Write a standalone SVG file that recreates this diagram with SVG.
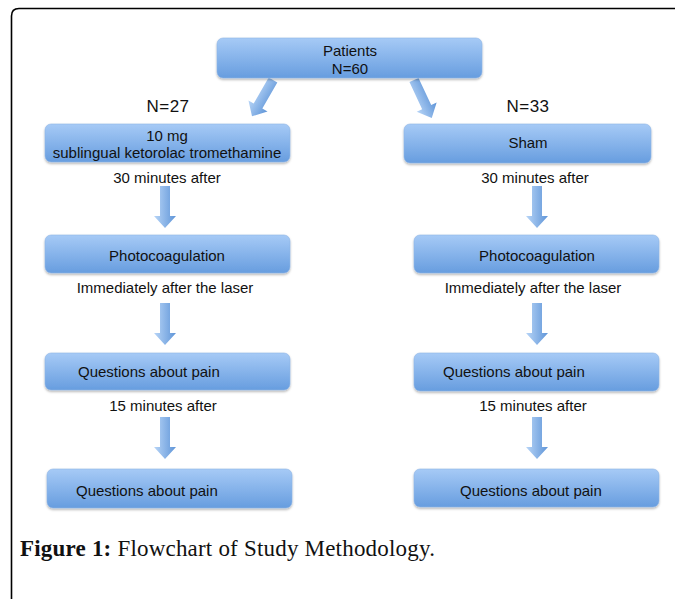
<svg xmlns="http://www.w3.org/2000/svg" xmlns:xlink="http://www.w3.org/1999/xlink" width="675" height="599" viewBox="0 0 675 599">
<defs>
<linearGradient id="boxg" x1="0" y1="0" x2="0" y2="1">
<stop offset="0" stop-color="#a6caf6"/>
<stop offset="1" stop-color="#679ddf"/>
</linearGradient>
<linearGradient id="arrg" x1="0" y1="0" x2="1" y2="0">
<stop offset="0" stop-color="#b8d5f7"/>
<stop offset="1" stop-color="#5f95d8"/>
</linearGradient>
<filter id="sh" x="-5%" y="-10%" width="110%" height="130%">
<feDropShadow dx="0" dy="1.5" stdDeviation="1.2" flood-color="#000" flood-opacity="0.3"/>
</filter>
<path id="arr" d="M-5,0 H5 V30 H11 L0,42 L-11,30 H-5 Z"/>
<style>
.box{fill:url(#boxg);stroke:#8fb5e6;stroke-width:0.6;filter:url(#sh)}
.t{font-family:"Liberation Sans","Open Sans",sans-serif;font-size:15px;fill:#111}
.c{text-anchor:middle}
.n{font-family:"Liberation Sans","Open Sans",sans-serif;font-size:17px;fill:#111;text-anchor:middle}
.a{fill:url(#arrg)}
</style>
</defs>
<rect width="675" height="599" fill="#fff"/>
<path d="M11.5,599 V16 Q11.5,8.5 19,8.5 H675" fill="none" stroke="#000" stroke-width="1.6"/>

<g id="connectors">
<use href="#arr" class="a" transform="translate(273,80) rotate(30)"/>
<use href="#arr" class="a" transform="translate(414,80) rotate(-25)"/>
<use href="#arr" class="a" transform="translate(165,186)"/>
<use href="#arr" class="a" transform="translate(537,186)"/>
<use href="#arr" class="a" transform="translate(165,303)"/>
<use href="#arr" class="a" transform="translate(537,303)"/>
<use href="#arr" class="a" transform="translate(165,417)"/>
<use href="#arr" class="a" transform="translate(537,417)"/>
</g>

<g id="patients">
<rect class="box" x="217" y="38" width="265" height="40" rx="6"/>
<text class="t c" x="350" y="56" font-size="16">Patients</text>
<text class="t c" x="350" y="74" font-size="16">N=60</text>
</g>

<text class="n" x="168" y="112" letter-spacing="0.5">N=27</text>
<text class="n" x="528" y="112" letter-spacing="0.5">N=33</text>

<g id="ketorolac">
<rect class="box" x="45" y="124" width="245" height="38" rx="6"/>
<text class="t c" x="167" y="141">10 mg</text>
<text class="t c" x="167" y="158">sublingual ketorolac tromethamine</text>
</g>
<g id="sham">
<rect class="box" x="404" y="124" width="247" height="39" rx="6"/>
<text class="t c" x="528" y="148">Sham</text>
</g>

<text class="t c" x="167" y="183">30 minutes after</text>
<text class="t c" x="535" y="183">30 minutes after</text>

<g id="photo-left">
<rect class="box" x="45" y="235" width="245" height="38" rx="6"/>
<text class="t c" x="167" y="261">Photocoagulation</text>
</g>
<g id="photo-right">
<rect class="box" x="414" y="235" width="245" height="38" rx="6"/>
<text class="t c" x="537" y="261">Photocoagulation</text>
</g>

<text class="t c" x="165" y="293">Immediately after the laser</text>
<text class="t c" x="533" y="293">Immediately after the laser</text>

<g id="pain1-left">
<rect class="box" x="45" y="353" width="245" height="37" rx="6"/>
<text class="t" x="78" y="377">Questions about pain</text>
</g>
<g id="pain1-right">
<rect class="box" x="414" y="353" width="245" height="38" rx="6"/>
<text class="t" x="443" y="377">Questions about pain</text>
</g>

<text class="t c" x="163" y="411">15 minutes after</text>
<text class="t c" x="533" y="411">15 minutes after</text>

<g id="pain2-left">
<rect class="box" x="47" y="469" width="245" height="39" rx="6"/>
<text class="t" x="76" y="496">Questions about pain</text>
</g>
<g id="pain2-right">
<rect class="box" x="414" y="469" width="245" height="38" rx="6"/>
<text class="t" x="460" y="496">Questions about pain</text>
</g>

<text x="20" y="556" font-family="'Liberation Serif','DejaVu Serif',serif" font-size="23" letter-spacing="0.2" fill="#111"><tspan font-weight="bold">Figure 1:</tspan> Flowchart of Study Methodology.</text>
</svg>
